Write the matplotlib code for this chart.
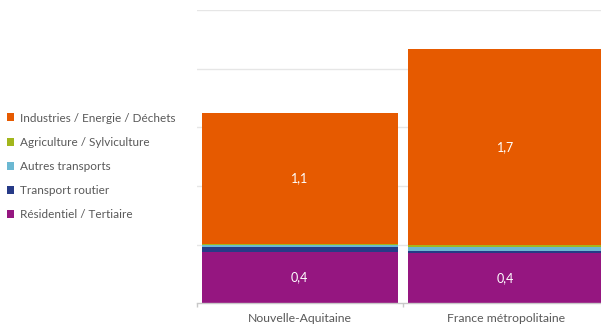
import matplotlib
matplotlib.use("Agg")
import matplotlib.pyplot as plt
from matplotlib.patches import Patch

categories = ["Nouvelle-Aquitaine", "France métropolitaine"]
series_names = ["Résidentiel / Tertiaire", "Transport routier", "Autres transports",
                "Agriculture / Sylviculture", "Industries / Energie / Déchets"]
residentiel = [0.44, 0.426]
routier = [0.04, 0.017]
autres = [0.017, 0.04]
agriculture = [0.011, 0.011]
industries = [1.117, 1.67]
labels_res = ["0,4", "0,4"]
labels_ind = ["1,1", "1,7"]

colors = ["#951680", "#263A87", "#6BB8D2", "#A2B61C", "#E65A00"]

plt.rcParams['font.family'] = ['Lato', 'DejaVu Sans']

fig = plt.figure(figsize=(6.01, 3.25), dpi=100)
ax = fig.add_axes([196.7/601, 21.7/325, 412/601, 293.3/325])

values = [residentiel, routier, autres, agriculture, industries]
x = list(range(len(categories)))
bottom = [0.0]*len(categories)
for vals, col in zip(values, colors):
    ax.bar(x, vals, width=0.953, bottom=bottom, color=col, linewidth=0, zorder=2)
    bottom = [b0 + v for b0, v in zip(bottom, vals)]

for i in x:
    ax.text(i, residentiel[i]/2, labels_res[i], ha='center', va='center',
            color='white', fontsize=9, zorder=3)
    base = residentiel[i] + routier[i] + autres[i] + agriculture[i]
    ax.text(i, base + industries[i]/2, labels_ind[i], ha='center', va='center',
            color='white', fontsize=9, zorder=3)

ax.set_xlim(-0.5, 1.5)
ax.set_ylim(0, 2.5)
ax.set_yticks([0.5, 1.0, 1.5, 2.0, 2.5])
ax.yaxis.grid(True, color='#E6E6E6', linewidth=1.0, zorder=0)
ax.set_axisbelow(True)
ax.tick_params(axis='y', length=0, labelleft=False)
for s in ['top', 'right', 'left']:
    ax.spines[s].set_visible(False)
ax.spines['bottom'].set_color('#C8C8C8')
ax.spines['bottom'].set_linewidth(1.0)

ax.set_xticks(x)
ax.set_xticklabels(categories, fontsize=8.8, color='#595959')
ax.tick_params(axis='x', which='major', length=0, pad=7)
ax.set_xticks([-0.5, 0.5, 1.5], minor=True)
ax.tick_params(axis='x', which='minor', length=3, color='#C8C8C8', width=1)

handles = [Patch(facecolor=c, edgecolor='none') for c in colors][::-1]
names = series_names[::-1]
leg = fig.legend(handles, names, loc='upper left', bbox_to_anchor=(3/601, 1 - 109/325),
                 frameon=False, fontsize=8.5, handlelength=0.65, handleheight=0.65,
                 handletextpad=0.5, labelspacing=1.12, borderaxespad=0, borderpad=0.3)
for t in leg.get_texts():
    t.set_color('#595959')

fig.savefig("out.png", dpi=100)
